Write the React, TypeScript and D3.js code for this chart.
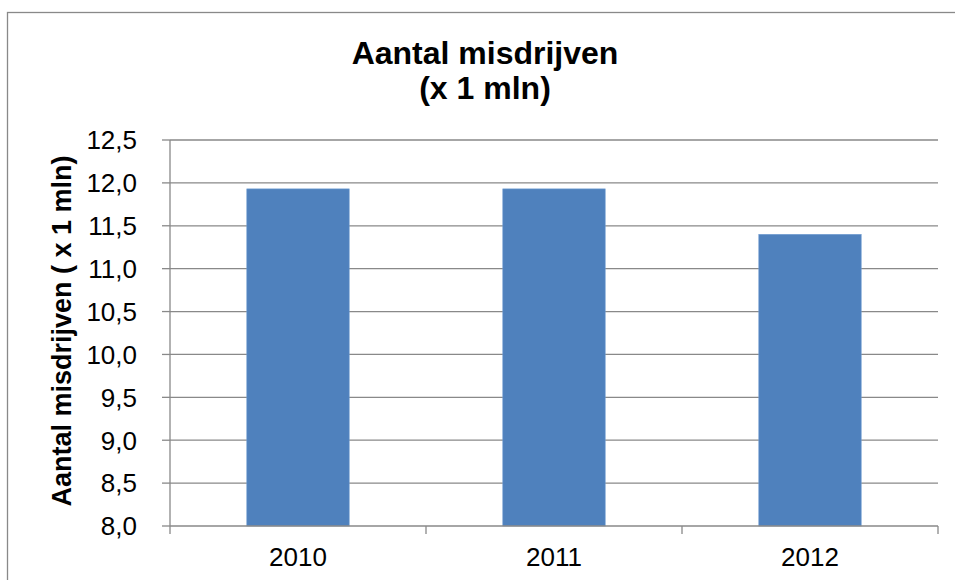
import * as d3 from 'd3';
import React, { useRef, useEffect } from 'react';

const years = ['2010', '2011', '2012'];
const misdrijven = [11.93, 11.93, 11.4];
const yTicks = [8.0, 8.5, 9.0, 9.5, 10.0, 10.5, 11.0, 11.5, 12.0, 12.5];
const titleLines = ['Aantal misdrijven', '(x 1 mln)'];
const yTitle = 'Aantal misdrijven ( x 1 mln)';

const App = () => {
  const ref = useRef<SVGSVGElement>(null);

  const width = 955,
    height = 580;
  const plot = { left: 170, right: 938, top: 140, bottom: 526 };
  const font = 'Arial, "Liberation Sans", sans-serif';
  const grey = '#898989';

  useEffect(() => {
    const svg = d3.select(ref.current);
    svg.selectAll('*').remove();

    // chart frame (runs off the right and bottom edge)
    svg.append('rect')
      .attr('x', 7.5).attr('y', 12.5)
      .attr('width', width + 20).attr('height', height + 20)
      .attr('fill', 'white')
      .attr('stroke', grey)
      .attr('stroke-width', 1.3);

    const x = d3.scaleBand()
      .domain(years)
      .range([plot.left, plot.right])
      .paddingInner(0.6)
      .paddingOuter(0.3);

    const y = d3.scaleLinear()
      .domain([8, 12.5])
      .range([plot.bottom, plot.top]);

    const fmt = (v: number) => d3.format('.1f')(v).replace('.', ',');

    // gridlines
    svg.append('g')
      .selectAll('line')
      .data(yTicks.slice(1))
      .join('line')
      .attr('x1', plot.left).attr('x2', plot.right)
      .attr('y1', (d) => y(d)).attr('y2', (d) => y(d))
      .attr('stroke', grey)
      .attr('stroke-width', 1.3);

    // bars
    svg.append('g')
      .selectAll('rect')
      .data(years)
      .join('rect')
      .attr('x', (d) => x(d)!)
      .attr('width', x.bandwidth())
      .attr('y', (d, i) => y(misdrijven[i]))
      .attr('height', (d, i) => y(8) - y(misdrijven[i]))
      .attr('fill', '#4F81BD')
      .attr('stroke', '#6f9bd0')
      .attr('stroke-width', 0.6);

    // Y axis
    const yAxis = svg.append('g');
    yAxis.append('line')
      .attr('x1', plot.left).attr('x2', plot.left)
      .attr('y1', plot.top).attr('y2', plot.bottom)
      .attr('stroke', grey).attr('stroke-width', 1.3);
    yAxis.selectAll('line.tick')
      .data(yTicks)
      .join('line')
      .attr('class', 'tick')
      .attr('x1', plot.left - 8).attr('x2', plot.left)
      .attr('y1', (d) => y(d)).attr('y2', (d) => y(d))
      .attr('stroke', grey).attr('stroke-width', 1.3);
    yAxis.selectAll('text')
      .data(yTicks)
      .join('text')
      .attr('x', 137)
      .attr('y', (d) => y(d))
      .attr('dy', '0.36em')
      .attr('text-anchor', 'end')
      .style('font-family', font)
      .style('font-size', '26px')
      .text(fmt);

    // X axis
    const step = x.step();
    const edges = d3.range(years.length + 1).map((i) => plot.left + i * step);
    const xAxis = svg.append('g');
    xAxis.append('line')
      .attr('x1', plot.left).attr('x2', plot.right)
      .attr('y1', plot.bottom).attr('y2', plot.bottom)
      .attr('stroke', grey).attr('stroke-width', 1.3);
    xAxis.selectAll('line.tick')
      .data(edges)
      .join('line')
      .attr('class', 'tick')
      .attr('x1', (d) => d).attr('x2', (d) => d)
      .attr('y1', plot.bottom).attr('y2', plot.bottom + 8)
      .attr('stroke', grey).attr('stroke-width', 1.3);
    xAxis.selectAll('text')
      .data(years)
      .join('text')
      .attr('x', (d) => x(d)! + x.bandwidth() / 2)
      .attr('y', 566)
      .attr('text-anchor', 'middle')
      .style('font-family', font)
      .style('font-size', '26px')
      .text((d) => d);

    // title
    svg.append('g')
      .selectAll('text')
      .data(titleLines)
      .join('text')
      .attr('x', 485)
      .attr('y', (d, i) => 64 + i * 35)
      .attr('text-anchor', 'middle')
      .style('font-family', font)
      .style('font-size', '32px')
      .style('font-weight', 'bold')
      .text((d) => d);

    // y axis title
    svg.append('text')
      .attr('transform', 'translate(71,331) rotate(-90)')
      .attr('text-anchor', 'middle')
      .style('font-family', font)
      .style('font-size', '27px')
      .style('font-weight', 'bold')
      .text(yTitle);
  });

  return (
    <svg
      ref={ref}
      width={width}
      height={height}
      style={{ position: 'absolute', left: 0, top: 0, display: 'block' }}
    ></svg>
  );
};

export default App;
